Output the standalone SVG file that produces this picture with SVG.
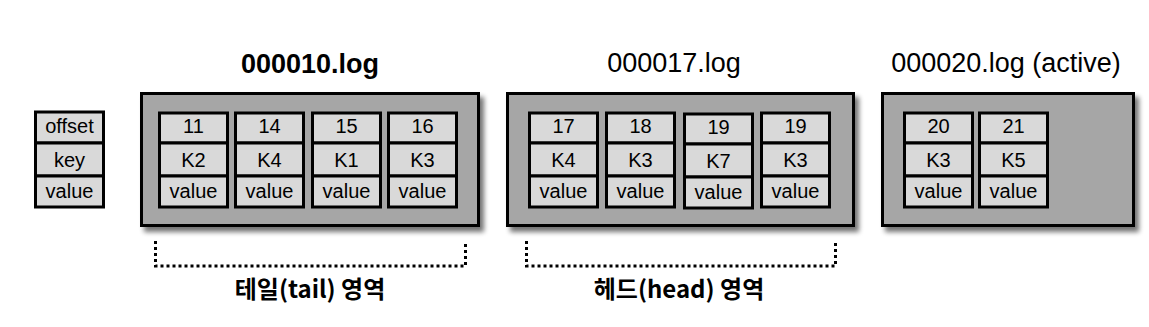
<svg xmlns="http://www.w3.org/2000/svg" width="1149" height="327" viewBox="0 0 1149 327">
<style>
.log{fill:#a6a6a6;stroke:#000;stroke-width:3;filter:url(#sh)}
.c{fill:#d9d9d9;stroke:#000;stroke-width:3}
.t{font-family:"Liberation Sans",Arial,sans-serif;font-size:20px;fill:#000;text-anchor:middle}
.title{font-family:"Liberation Sans",Arial,sans-serif;font-size:27px;fill:#000;text-anchor:middle}
.kr{font-family:"Noto Sans CJK KR","Liberation Sans",sans-serif;font-size:24px;font-weight:bold;fill:#000;text-anchor:middle}
.br{fill:none;stroke:#000;stroke-width:3;stroke-dasharray:3 3}
</style>
<defs>
<filter id="sh" x="-5%" y="-5%" width="115%" height="125%">
<feGaussianBlur in="SourceAlpha" stdDeviation="2.5"/>
<feOffset dx="4" dy="5" result="b"/>
<feComponentTransfer><feFuncA type="linear" slope="0.55"/></feComponentTransfer>
<feMerge><feMergeNode/><feMergeNode in="SourceGraphic"/></feMerge>
</filter>
<g id="cell">
<rect class="c" x="1.5" y="0" width="68" height="30"/>
<rect class="c" x="1.5" y="30" width="68" height="33"/>
<rect class="c" x="1.5" y="63" width="68" height="31"/>
</g>
</defs>

<g id="legend">
<rect class="c" x="35.5" y="112" width="68" height="31"/>
<rect class="c" x="35.5" y="143" width="68" height="33"/>
<rect class="c" x="35.5" y="176" width="68" height="31"/>
<text class="t" x="69.5" y="133">offset</text>
<text class="t" x="69.5" y="167">key</text>
<text class="t" x="69.5" y="198">value</text>
</g>

<g id="log-000010">
<text class="title" x="310" y="73" font-weight="bold">000010.log</text>
<rect class="log" x="141.5" y="93.5" width="337" height="132"/>
<g transform="translate(158,113)"><use href="#cell"/><text class="t" x="35.5" y="20">11</text><text class="t" x="35.5" y="54">K2</text><text class="t" x="35.5" y="85">value</text></g>
<g transform="translate(234,113)"><use href="#cell"/><text class="t" x="35.5" y="20">14</text><text class="t" x="35.5" y="54">K4</text><text class="t" x="35.5" y="85">value</text></g>
<g transform="translate(311,113)"><use href="#cell"/><text class="t" x="35.5" y="20">15</text><text class="t" x="35.5" y="54">K1</text><text class="t" x="35.5" y="85">value</text></g>
<g transform="translate(387,113)"><use href="#cell"/><text class="t" x="35.5" y="20">16</text><text class="t" x="35.5" y="54">K3</text><text class="t" x="35.5" y="85">value</text></g>
</g>

<g id="log-000017">
<text class="title" x="674" y="72">000017.log</text>
<rect class="log" x="507.5" y="93.5" width="346" height="132"/>
<g transform="translate(528,113)"><use href="#cell"/><text class="t" x="35.5" y="20">17</text><text class="t" x="35.5" y="54">K4</text><text class="t" x="35.5" y="85">value</text></g>
<g transform="translate(605,113)"><use href="#cell"/><text class="t" x="35.5" y="20">18</text><text class="t" x="35.5" y="54">K3</text><text class="t" x="35.5" y="85">value</text></g>
<g transform="translate(683,114)"><use href="#cell"/><text class="t" x="35.5" y="20">19</text><text class="t" x="35.5" y="54">K7</text><text class="t" x="35.5" y="85">value</text></g>
<g transform="translate(760,113)"><use href="#cell"/><text class="t" x="35.5" y="20">19</text><text class="t" x="35.5" y="54">K3</text><text class="t" x="35.5" y="85">value</text></g>
</g>

<g id="log-000020">
<text class="title" x="1006" y="72">000020.log (active)</text>
<rect class="log" x="882.5" y="93.5" width="251" height="132"/>
<g transform="translate(903,113)"><use href="#cell"/><text class="t" x="35.5" y="20">20</text><text class="t" x="35.5" y="54">K3</text><text class="t" x="35.5" y="85">value</text></g>
<g transform="translate(978,113)"><use href="#cell"/><text class="t" x="35.5" y="20">21</text><text class="t" x="35.5" y="54">K5</text><text class="t" x="35.5" y="85">value</text></g>
</g>

<g id="connectors">
<g id="tail-region">
<path class="br" d="M155.5 241 V266 H465.5 V241"/>
<text class="kr" x="310" y="298">테일(tail) 영역</text>
</g>
<g id="head-region">
<path class="br" d="M526.5 241 V266 H835.5 V241"/>
<text class="kr" x="679" y="298">헤드(head) 영역</text>
</g>
</g>
</svg>
